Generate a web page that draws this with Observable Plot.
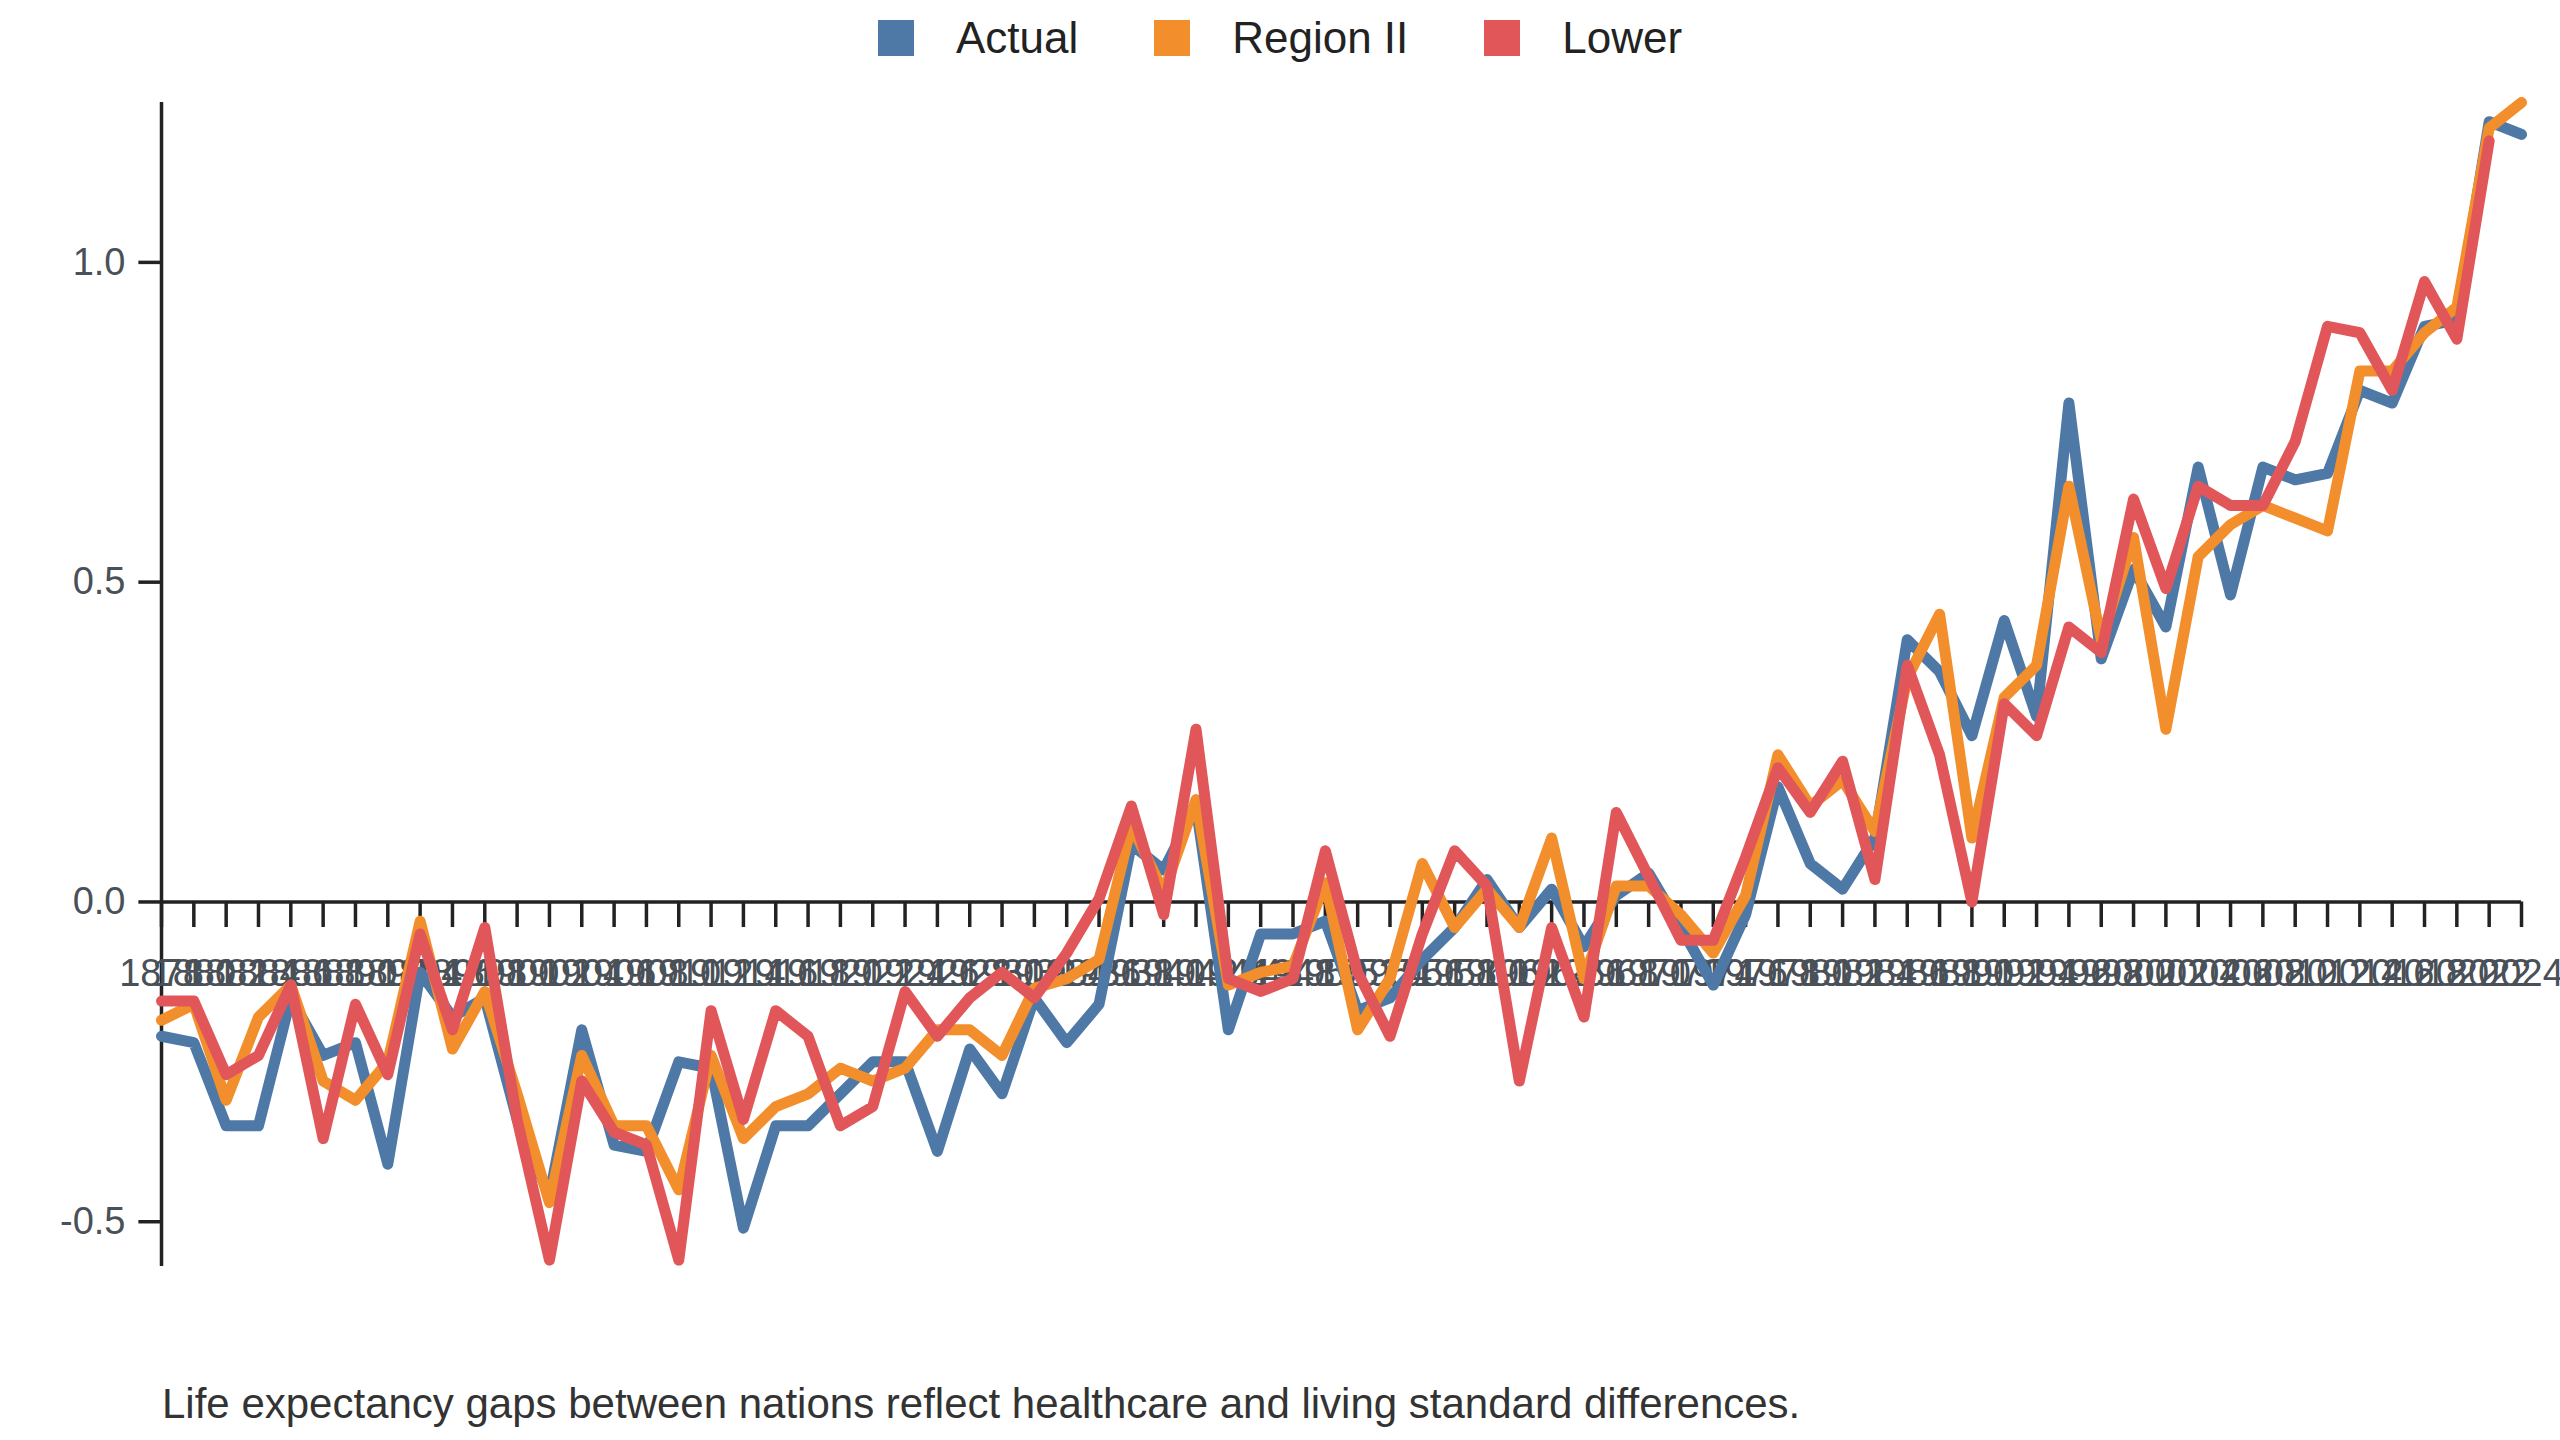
<!DOCTYPE html>
<html><head><meta charset="utf-8">
<script src="https://cdn.jsdelivr.net/npm/d3@7"></script>
<script src="https://cdn.jsdelivr.net/npm/@observablehq/plot@0.6"></script>
<style>
body{margin:0;background:#fff;font-family:Arial,"Liberation Sans",sans-serif;width:2560px;}
#legend{height:76px;display:flex;justify-content:center;align-items:center;gap:76px;font-size:44px;color:#222;padding-left:0px}
.item{display:flex;align-items:center;gap:42px}
.sw{width:36px;height:36px;display:inline-block}
#cap{margin-left:162px;margin-top:74px;font-size:42px;color:#333}
</style></head><body>
<div id="legend"></div>
<div id="chart"></div>
<div id="cap">Life expectancy gaps between nations reflect healthcare and living standard differences.</div>
<script>
const years = d3.range(1878, 2025, 2);
const seriesNames = ["Actual", "Region II", "Lower"];
const colors = ["#4e79a7", "#f28e2b", "#e15759"];
const actual = [-0.21,-0.22,-0.35,-0.35,-0.15,-0.24,-0.22,-0.41,-0.11,-0.18,-0.15,-0.34,-0.46,-0.20,-0.38,-0.39,-0.25,-0.26,-0.51,-0.35,-0.35,-0.30,-0.25,-0.25,-0.39,-0.23,-0.30,-0.15,-0.22,-0.16,0.09,0.05,0.15,-0.20,-0.05,-0.05,-0.03,-0.17,-0.15,-0.09,-0.04,0.035,-0.04,0.02,-0.07,0.01,0.045,-0.04,-0.13,-0.02,0.18,0.06,0.02,0.10,0.41,0.36,0.26,0.44,0.29,0.78,0.38,0.52,0.43,0.68,0.48,0.68,0.66,0.67,0.80,0.78,0.90,0.91,1.22,1.20];
const region2 = [-0.185,-0.16,-0.31,-0.18,-0.13,-0.28,-0.31,-0.25,-0.03,-0.23,-0.14,-0.30,-0.47,-0.24,-0.35,-0.35,-0.45,-0.24,-0.37,-0.32,-0.30,-0.26,-0.28,-0.26,-0.20,-0.20,-0.24,-0.135,-0.12,-0.09,0.12,0.015,0.16,-0.13,-0.11,-0.10,0.03,-0.20,-0.12,0.06,-0.04,0.02,-0.04,0.10,-0.12,0.025,0.025,-0.02,-0.08,0.01,0.23,0.15,0.19,0.11,0.35,0.45,0.10,0.32,0.37,0.65,0.41,0.57,0.27,0.54,0.59,0.62,0.60,0.58,0.83,0.83,0.89,0.93,1.21,1.25];
const lower = [-0.155,-0.155,-0.27,-0.24,-0.13,-0.37,-0.16,-0.27,-0.05,-0.20,-0.04,-0.34,-0.56,-0.28,-0.36,-0.38,-0.56,-0.17,-0.34,-0.17,-0.21,-0.35,-0.32,-0.14,-0.21,-0.15,-0.11,-0.15,-0.08,0.005,0.15,-0.02,0.27,-0.12,-0.14,-0.12,0.08,-0.11,-0.21,-0.05,0.08,0.025,-0.28,-0.04,-0.18,0.14,0.04,-0.06,-0.06,0.07,0.21,0.14,0.22,0.035,0.37,0.23,0.0,0.31,0.26,0.43,0.39,0.63,0.49,0.65,0.62,0.62,0.72,0.90,0.89,0.80,0.97,0.88,1.19,null];
const yTicks = [-0.5, 0, 0.5, 1.0];

const all = [actual, region2, lower];
const rows = [];
all.forEach((arr, s) => arr.forEach((v, i) => rows.push({year: years[i], value: v, series: seriesNames[s]})));

const leg = document.getElementById("legend");
seriesNames.forEach((n, i) => {
  const d = document.createElement("div"); d.className = "item";
  d.innerHTML = `<span class="sw" style="background:${colors[i]}"></span><span>${n}</span>`;
  leg.appendChild(d);
});

const yMin = -0.57, yMax = 1.25;
const chart = Plot.plot({
  width: 2560, height: 1230,
  marginLeft: 161, marginRight: 39, marginTop: 26, marginBottom: 40,
  style: {fontFamily: "Arial, 'Liberation Sans', sans-serif", fontSize: "38px", color: "#4a5058", background: "#fff"},
  x: {domain: [1878, 2024], axis: null},
  y: {domain: [yMin, yMax], axis: null},
  color: {domain: seriesNames, range: colors},
  marks: [
    Plot.ruleX([1878], {y1: yMin, y2: yMax, stroke: "#222", strokeWidth: 3.5}),
    Plot.ruleY(yTicks, {x1: 1878, x2: 1878 - 1.4, stroke: "#222", strokeWidth: 3.5}),
    Plot.text(yTicks, {x: 1878, y: d => d, text: d => d.toFixed(1), textAnchor: "end", dx: -36, fill: "#4a5058", fontSize: 38}),
    Plot.ruleY([0], {x1: 1878, x2: 2024, stroke: "#222", strokeWidth: 3.5}),
    Plot.ruleX(years, {y1: 0, y2: -0.04, stroke: "#222", strokeWidth: 3.5}),
    Plot.text(years, {x: d => d, y: 0, text: d => String(d), dy: 72, fill: "#4a5058", fontSize: 38}),
    Plot.line(rows, {x: "year", y: "value", stroke: "series", z: "series", strokeWidth: 11, defined: d => d.value != null})
  ]
});
document.getElementById("chart").appendChild(chart);
</script></body></html>
